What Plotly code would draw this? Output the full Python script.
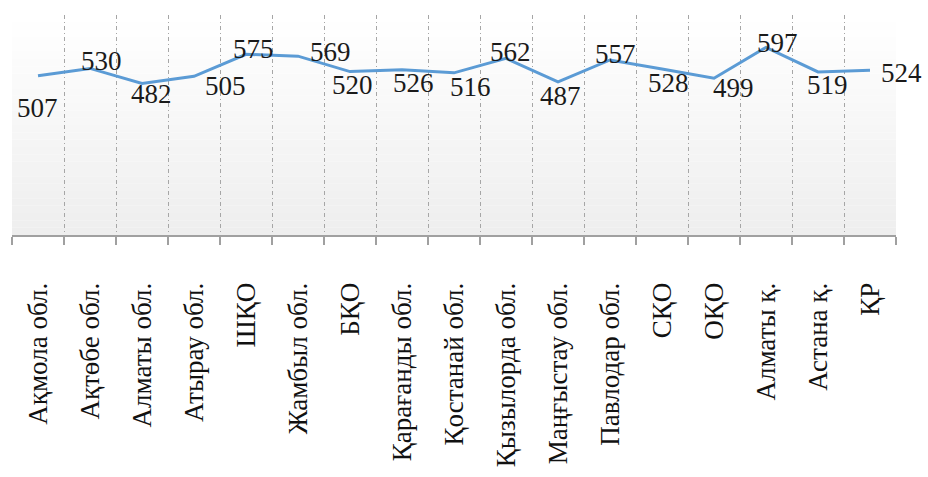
import plotly.graph_objects as go

categories = ["Ақмола обл.", "Ақтөбе обл.", "Алматы обл.", "Атырау обл.", "ШҚО",
              "Жамбыл обл.", "БҚО", "Қарағанды обл.", "Қостанай обл.", "Қызылорда обл.",
              "Маңғыстау обл.", "Павлодар обл.", "СҚО", "ОҚО", "Алматы қ.", "Астана қ.", "ҚР"]
values = [507, 530, 482, 505, 575, 569, 520, 526, 516, 562, 487, 557, 528, 499, 597, 519, 524]

# label offsets in pixels (dx right, dy down) to mimic manual placement
label_dx = [-1, 11, 9, 31, 7, 32, 2, 11, 16, 4, 2, 5, 6, 19, 11, 9, 31]
label_dy = [32, -7, 10, 10, -5, -4, 13, 13, 14, -6, 14, -6, 14, 10, -4, 13, 3]

SERIF = "Liberation Serif"

fig = go.Figure()
fig.add_trace(go.Scatter(x=categories, y=values, mode="lines",
                         line=dict(color="#5b9bd5", width=3), hoverinfo="skip"))

# gradient background
n = 30
shapes = []
for i in range(n):
    t = i / (n - 1)
    g = int(round(255 - (255 - 238) * t))
    shapes.append(dict(type="rect", xref="x domain", yref="y domain",
                       x0=0, x1=1, y0=1 - (i + 1) / n, y1=1 - i / n,
                       fillcolor=f"rgb({g},{g},{g})", line=dict(width=0), layer="below"))

annotations = []
for c, v, dx, dy in zip(categories, values, label_dx, label_dy):
    annotations.append(dict(x=c, y=v, xref="x", yref="y", text=str(v), showarrow=False,
                            xshift=dx, yshift=-dy,
                            font=dict(family=SERIF, size=27, color="#1a1a1a")))

fig.update_layout(
    width=928, height=477,
    margin=dict(l=12, r=32, t=15, b=242),
    paper_bgcolor="white", plot_bgcolor="rgba(0,0,0,0)",
    showlegend=False, shapes=shapes, annotations=annotations,
    font=dict(family=SERIF),
)
fig.update_xaxes(
    type="category", tickson="boundaries", range=[-0.5, 16.5],
    showgrid=True, gridcolor="#a6a6a6", griddash="4px,3px,1px,3px", gridwidth=1,
    showline=True, linecolor="#a0a0a0", linewidth=2,
    ticks="outside", ticklen=8, tickcolor="#a0a0a0", tickwidth=2,
    tickangle=-90, ticklabelstandoff=35, automargin=False,
    tickfont=dict(family=SERIF, size=27, color="#111111"),
)
fig.update_yaxes(range=[0, 700], showgrid=False, zeroline=False, showticklabels=False,
                 showline=False, ticks="")

fig.write_html("out.html")
